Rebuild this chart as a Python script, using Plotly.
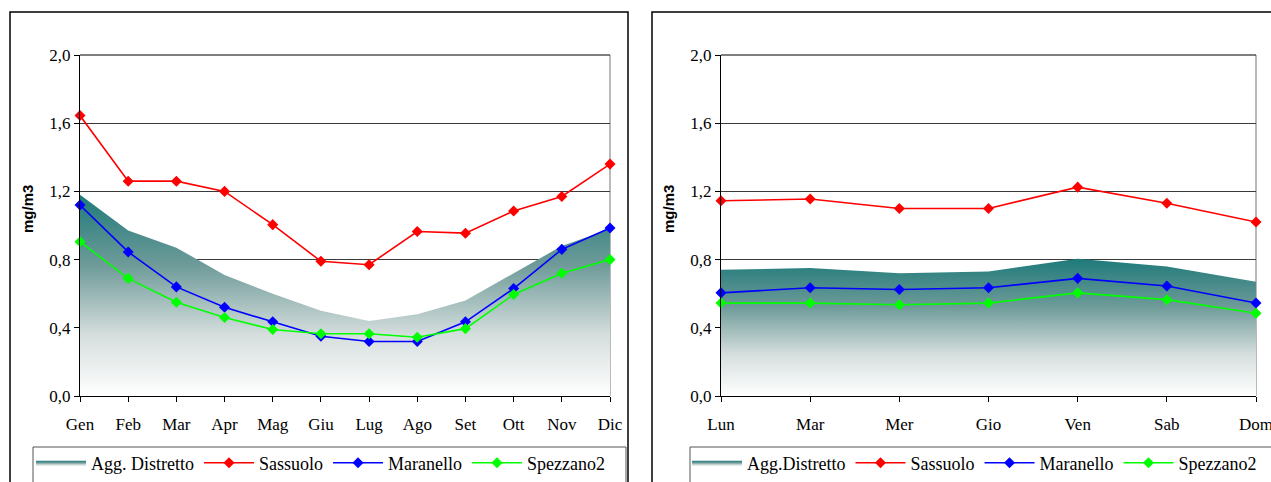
import plotly.graph_objects as go

# ---------------- data ----------------
months = ["Gen", "Feb", "Mar", "Apr", "Mag", "Giu", "Lug", "Ago", "Set", "Ott", "Nov", "Dic"]
days = ["Lun", "Mar", "Mer", "Gio", "Ven", "Sab", "Dom"]

agg_m = [1.18, 0.97, 0.87, 0.71, 0.60, 0.50, 0.44, 0.48, 0.56, 0.72, 0.88, 0.98]
sass_m = [1.645, 1.26, 1.26, 1.20, 1.005, 0.79, 0.77, 0.965, 0.955, 1.085, 1.17, 1.36]
mara_m = [1.12, 0.845, 0.64, 0.52, 0.435, 0.35, 0.32, 0.32, 0.435, 0.63, 0.86, 0.985]
spez_m = [0.905, 0.69, 0.55, 0.46, 0.39, 0.365, 0.365, 0.345, 0.395, 0.595, 0.72, 0.80]

agg_w = [0.74, 0.75, 0.72, 0.73, 0.805, 0.76, 0.67]
sass_w = [1.145, 1.155, 1.10, 1.10, 1.225, 1.13, 1.02]
mara_w = [0.605, 0.635, 0.625, 0.635, 0.69, 0.645, 0.545]
spez_w = [0.545, 0.545, 0.535, 0.545, 0.605, 0.565, 0.485]

y_ticks = [0.0, 0.4, 0.8, 1.2, 1.6, 2.0]

# ---------------- style ----------------
W, H = 1271, 482
SERIF = "Liberation Serif"
RED, BLUE, GREEN = "#ff0000", "#0000ff", "#00ff00"
GRAD = [[0.0, "#ffffff"], [0.3, "#d6dfde"], [0.65, "#6e9b99"], [1.0, "#1e7a7a"]]


def px_x(v):
    return v / W


def px_y(v):
    return (H - v) / H


fig = go.Figure()


def add_panel(xcat, agg, sass, mara, spez, xa, ya, legend, agg_name):
    fig.add_trace(go.Scatter(
        x=xcat, y=agg, name=agg_name, mode="lines", fill="tozeroy",
        line=dict(width=0, color="#1e7a7a"),
        fillgradient=dict(type="vertical", colorscale=GRAD, start=0, stop=max(agg)),
        xaxis=xa, yaxis=ya, legend=legend, hoverinfo="skip"))
    for name, vals, col in [("Sassuolo", sass, RED), ("Maranello", mara, BLUE),
                            ("Spezzano2", spez, GREEN)]:
        fig.add_trace(go.Scatter(
            x=xcat, y=vals, name=name, mode="lines+markers",
            line=dict(color=col, width=1.6),
            marker=dict(symbol="diamond", size=8.5, color=col),
            cliponaxis=False, xaxis=xa, yaxis=ya, legend=legend))


add_panel(months, agg_m, sass_m, mara_m, spez_m, "x", "y", "legend", "Agg. Distretto")
add_panel(days, agg_w, sass_w, mara_w, spez_w, "x2", "y2", "legend2", "Agg.Distretto")

ydom = [px_y(396), px_y(55)]
common_x = dict(type="category", showline=True, linecolor="black", linewidth=1,
                ticks="outside", ticklen=5, tickcolor="black", showgrid=False,
                automargin=False, ticklabelstandoff=8,
                tickfont=dict(family=SERIF, size=17, color="black"), zeroline=False)
common_y = dict(range=[0, 2.0], tickvals=y_ticks, tickformat=".1f",
                showline=True, linecolor="black", linewidth=1,
                ticks="outside", ticklen=5, tickcolor="black", automargin=False,
                showgrid=True, gridcolor="#3a3a3a", gridwidth=1, zeroline=False,
                tickfont=dict(family=SERIF, size=17, color="black"))

leg_common = dict(orientation="h", xanchor="left", yanchor="middle",
                  xref="container", yref="container", itemwidth=50,
                  bgcolor="rgba(0,0,0,0)", borderwidth=0,
                  font=dict(family=SERIF, size=18, color="black"))

shapes = []
# outer panel borders
shapes.append(dict(type="rect", xref="paper", yref="paper",
                   x0=px_x(10), x1=px_x(628), y0=px_y(500), y1=px_y(12),
                   line=dict(color="black", width=1.5), layer="below"))
shapes.append(dict(type="rect", xref="paper", yref="paper",
                   x0=px_x(652), x1=px_x(1290), y0=px_y(500), y1=px_y(12),
                   line=dict(color="black", width=1.5), layer="below"))
# legend boxes
shapes.append(dict(type="rect", xref="paper", yref="paper",
                   x0=px_x(33), x1=px_x(626), y0=px_y(500), y1=px_y(447),
                   line=dict(color="#555555", width=1), layer="below"))
shapes.append(dict(type="rect", xref="paper", yref="paper",
                   x0=px_x(690), x1=px_x(1290), y0=px_y(500), y1=px_y(447),
                   line=dict(color="#555555", width=1), layer="below"))
# plot-area top (black) and right (gray) borders
for xr, yr in [("x domain", "y domain"), ("x2 domain", "y2 domain")]:
    shapes.append(dict(type="line", xref=xr, yref=yr, x0=0, x1=1, y0=1, y1=1,
                       line=dict(color="black", width=1.2)))
    shapes.append(dict(type="line", xref=xr, yref=yr, x0=1, x1=1, y0=0, y1=1,
                       line=dict(color="#8c8c8c", width=1.2), layer="below"))

annotations = []
for xc in [27, 668]:
    annotations.append(dict(text="<b>mg/m3</b>", xref="paper", yref="paper",
                            x=px_x(xc), y=px_y(209), xanchor="center", yanchor="middle",
                            showarrow=False, textangle=-90,
                            font=dict(family="Liberation Sans", size=15, color="black")))

fig.update_layout(
    width=W, height=H,
    margin=dict(l=0, r=0, t=0, b=0, pad=0, autoexpand=False),
    paper_bgcolor="white", plot_bgcolor="rgba(0,0,0,0)",
    separators=",.",
    showlegend=True,
    hovermode=False,
    xaxis=dict(domain=[px_x(80), px_x(610)], range=[0, len(months) - 1], anchor="y", **common_x),
    yaxis=dict(domain=ydom, anchor="x", **common_y),
    xaxis2=dict(domain=[px_x(721), px_x(1256)], range=[0, len(days) - 1], anchor="y2", **common_x),
    yaxis2=dict(domain=ydom, anchor="x2", **common_y),
    legend=dict(x=px_x(31), y=px_y(463), **leg_common),
    legend2=dict(x=px_x(687), y=px_y(463), **leg_common),
    shapes=shapes,
    annotations=annotations,
)

# remove the browser's default 8px body margin so the 1271x482 figure fills the window
fig.write_html("out.html",
               config={"displayModeBar": False},
               post_script="document.body.style.margin='0px';"
                           "document.body.style.overflow='hidden';")
